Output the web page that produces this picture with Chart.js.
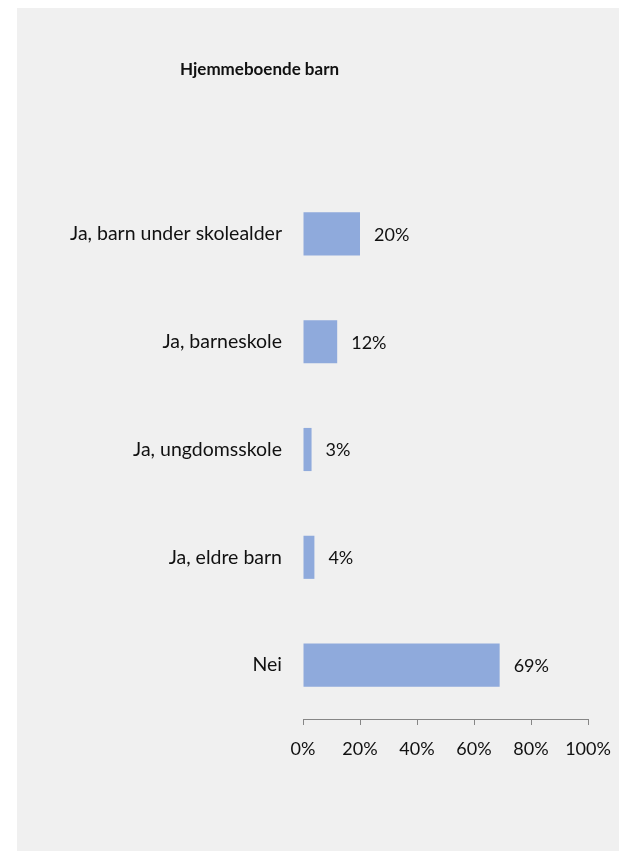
<!DOCTYPE html>
<html>
<head>
<meta charset="utf-8">
<script src="https://cdn.jsdelivr.net/npm/chart.js@4/dist/chart.umd.min.js"></script>
<style>
  html, body { margin: 0; padding: 0; background: #ffffff; }
  #panel {
    position: absolute; left: 17px; top: 8px;
    width: 602px; height: 843px;
    background: #f0f0f0;
  }
  canvas { display: block; }
</style>
</head>
<body>
<div id="panel"><canvas id="chart" width="602" height="843"></canvas></div>
<script>
const chartTitle = 'Hjemmeboende barn';
const categories = [
  'Ja, barn under skolealder',
  'Ja, barneskole',
  'Ja, ungdomsskole',
  'Ja, eldre barn',
  'Nei'
];
const shares = [20, 12, 3, 4, 69];
const xTicks = [0, 20, 40, 60, 80, 100];

const FONT = 'Lato, "Open Sans", sans-serif';

// Title drawn left of centre, as in the report layout
const titlePlugin = {
  id: 'panelTitle',
  afterDraw(chart) {
    const ctx = chart.ctx;
    ctx.save();
    ctx.font = 'bold 17px ' + FONT;
    ctx.fillStyle = '#111111';
    ctx.textAlign = 'left';
    ctx.textBaseline = 'middle';
    ctx.fillText(chartTitle, 163, 62);
    ctx.restore();
  }
};

// Percentage label just past the end of each bar
const valueLabels = {
  id: 'valueLabels',
  afterDatasetsDraw(chart) {
    const ctx = chart.ctx;
    const meta = chart.getDatasetMeta(0);
    ctx.save();
    ctx.font = '18px ' + FONT;
    ctx.fillStyle = '#111111';
    ctx.textAlign = 'left';
    ctx.textBaseline = 'middle';
    meta.data.forEach((bar, i) => {
      ctx.fillText(shares[i] + '%', bar.x + 14, bar.y + 1);
    });
    ctx.restore();
  }
};

new Chart(document.getElementById('chart'), {
  type: 'bar',
  data: {
    labels: categories,
    datasets: [{
      data: shares,
      backgroundColor: '#8faadc',
      borderWidth: 0,
      categoryPercentage: 1,
      barPercentage: 0.4
    }]
  },
  options: {
    indexAxis: 'y',
    responsive: false,
    animation: false,
    layout: { padding: { top: 172, right: 31, bottom: 92, left: 0 } },
    plugins: {
      legend: { display: false },
      title: { display: false },
      tooltip: { enabled: false }
    },
    scales: {
      x: {
        min: 0,
        max: 100,
        afterBuildTicks(scale) {
          scale.ticks = xTicks.map(v => ({ value: v }));
        },
        afterFit(scale) {
          scale.height = 40;
          scale.paddingLeft = 0;
          scale.paddingRight = 0;
        },
        grid: {
          drawOnChartArea: false,
          drawTicks: true,
          tickLength: 6,
          color: '#868686',
          lineWidth: 1
        },
        border: { display: true, color: '#868686', width: 1 },
        ticks: {
          padding: 13,
          color: '#111111',
          font: { family: FONT, size: 18 },
          callback: v => v + '%'
        }
      },
      y: {
        afterFit(scale) { scale.width = 286; },
        grid: { display: false, drawTicks: false },
        border: { display: false },
        ticks: {
          padding: 21,
          color: '#111111',
          font: { family: FONT, size: 19.5 }
        }
      }
    }
  },
  plugins: [titlePlugin, valueLabels]
});
</script>
</body>
</html>
